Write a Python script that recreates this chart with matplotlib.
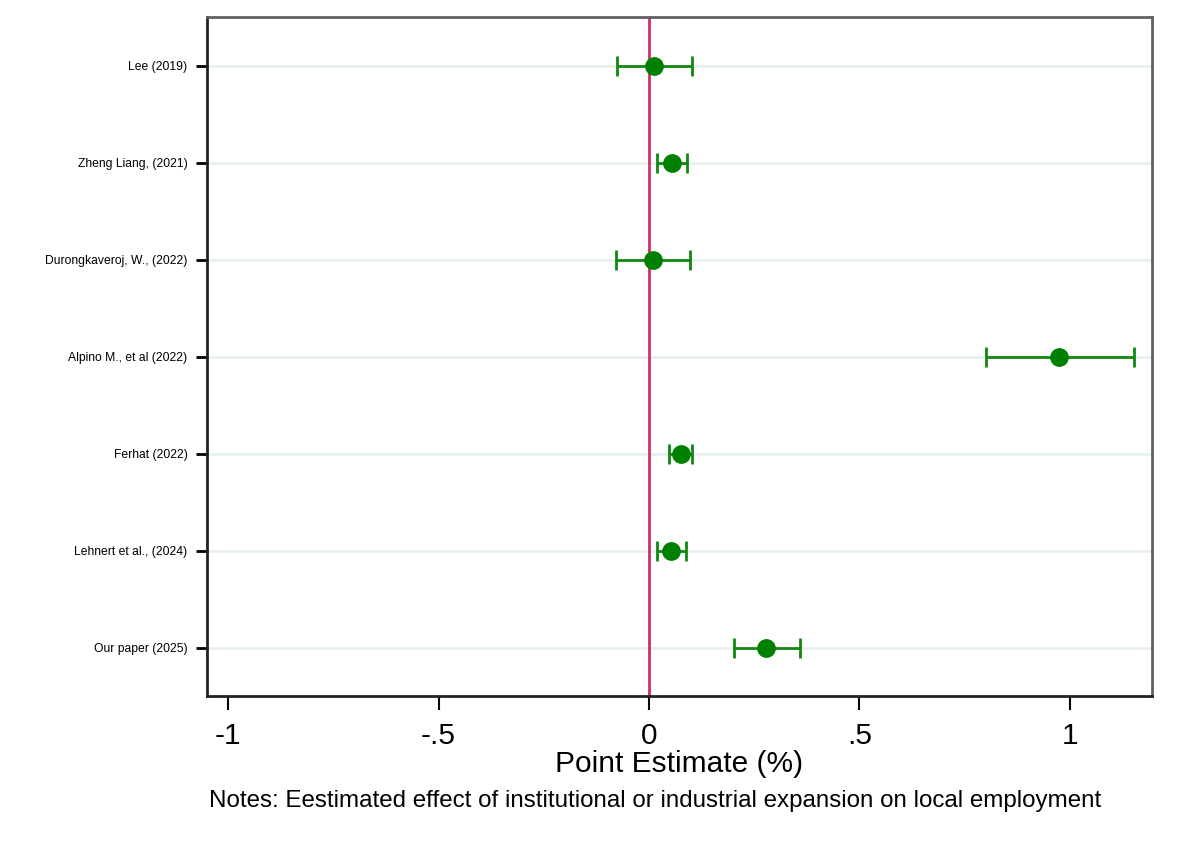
import matplotlib
matplotlib.use("Agg")
import matplotlib.pyplot as plt
import numpy as np

plt.rcParams['font.family'] = ['Liberation Sans', 'DejaVu Sans']

studies = ["Lee (2019)", "Zheng Liang, (2021)", "Durongkaveroj, W., (2022)",
           "Alpino M., et al (2022)", "Ferhat (2022)", "Lehnert et al., (2024)",
           "Our paper (2025)"]
estimates = [0.012, 0.054, 0.010, 0.973, 0.076, 0.052, 0.277]
ci_low = [-0.076, 0.019, -0.078, 0.800, 0.047, 0.019, 0.202]
ci_high = [0.101, 0.090, 0.098, 1.152, 0.103, 0.088, 0.358]
xticks = [-1, -0.5, 0, 0.5, 1]
xticklabels = ["-1", "-.5", "0", ".5", "1"]

fig = plt.figure(figsize=(11.8, 8.46), dpi=100)
ax = fig.add_axes([0.1754, 0.1773, 0.9763 - 0.1754, 0.9799 - 0.1773])

n = len(studies)
ypos = np.arange(n)[::-1] + 1

for y in ypos:
    ax.axhline(y, color='#e8f0f2', lw=2, zorder=0)

ax.axvline(0, color='#d0305a', lw=2, zorder=1)

est = np.array(estimates)
lo = est - np.array(ci_low)
hi = np.array(ci_high) - est
ax.errorbar(est, ypos, xerr=[lo, hi], fmt='o', color='#008000', ecolor='#118811',
            elinewidth=2, capsize=7, capthick=2, markersize=12.5, zorder=3)

ax.set_xlim(-1.05, 1.195)
ax.set_ylim(0.5, 7.5)
ax.set_yticks(ypos)
ax.set_yticklabels(studies, fontsize=8.7)
ax.set_xticks(xticks)
ax.set_xticklabels(xticklabels, fontsize=21.5)
ax.tick_params(axis='x', length=10, width=1.5, pad=9)
ax.tick_params(axis='y', length=8, width=2, pad=6)

for s in ['left', 'bottom']:
    ax.spines[s].set_color('#222222')
    ax.spines[s].set_linewidth(2)
for s in ['top', 'right']:
    ax.spines[s].set_color('#606060')
    ax.spines[s].set_linewidth(2)

ax.set_xlabel("Point Estimate (%)", fontsize=21.5, labelpad=0)
fig.text(0.5551, 0.0532, "Notes: Eestimated effect of institutional or industrial expansion on local employment",
         fontsize=17.4, ha='center', va='center')

fig.savefig("out.png", dpi=100, facecolor='white')
